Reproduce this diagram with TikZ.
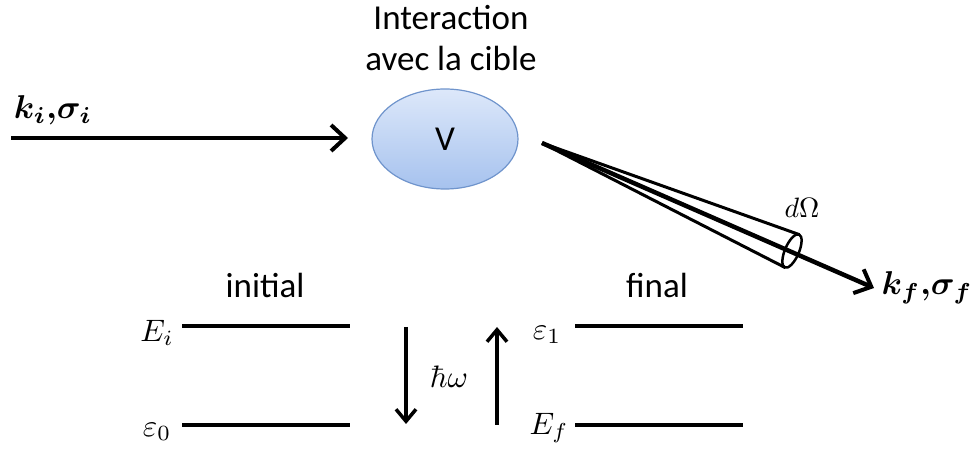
\documentclass[tikz,border=0pt]{standalone}
\usepackage{amsmath,bm}
\usepackage[no-math]{fontspec}
\setmainfont{Carlito}
\usetikzlibrary{arrows.meta,shapes.geometric}
\definecolor{elltop}{HTML}{DDE8FA}
\definecolor{ellbot}{HTML}{A6C2EE}
\definecolor{elldraw}{HTML}{6F94CC}
\begin{document}
\begin{tikzpicture}[x=1pt,y=-1pt,
  txt/.style={font=\fontsize{35}{38}\selectfont, inner sep=0pt},
  mth/.style={scale=3.1, inner sep=0pt},
  lvl/.style={line width=4pt},
  bar/.style={line width=4pt, -{Straight Barb[length=14pt,width=26pt,line width=4pt]}},
  vbar/.style={line width=3.5pt, -{Straight Barb[length=12pt,width=20pt,line width=3.5pt]}}
]
\useasboundingbox (0,0) rectangle (978,454);
% top labels
\node[txt] (t1) at (451,18) {Interaction};
\node[txt] (t2) at (451,58) {avec la cible};
% ellipse
\node[ellipse, minimum width=146pt, minimum height=100pt, draw=elldraw, line width=1.2pt,
  top color=elltop, bottom color=ellbot, inner sep=0pt] (V) at (445,139) {};
\node[txt] at (V) {V};
% incoming
\coordinate (in0) at (11,138);
\coordinate (in1) at (348,138);
\draw[bar] (in0) -- (in1);
\node[scale=3.3, inner sep=0pt] (ki) at (53,110) {$\bm{k_i{,}\sigma_i}$};
% cone
\coordinate (A) at (542,143);
\coordinate (C) at (792,251);
\coordinate (Ct) at (799,234.5);
\coordinate (Cb) at (785,267.5);
\coordinate (T) at (874,288);
\draw[line width=3pt] (A) -- (Ct);
\draw[line width=3pt] (A) -- (Cb);
\draw[line width=2.5pt, rotate around={-23.4:(C)}] (C) ellipse (7 and 18);
\draw[line width=4.5pt, -{Straight Barb[length=14pt,width=26pt,line width=4pt]}] (A) -- (T);
\node[scale=2.8, inner sep=0pt] (dO) at (802,208) {$d\Omega$};
\node[scale=3.3, inner sep=0pt] (kf) at (927,288) {$\bm{k_f{,}\sigma_f}$};
% levels
\node[txt] (ini) at (265,285) {initial};
\node[txt] (fin) at (657,285) {final};
\coordinate (Ei0) at (182,326); \coordinate (Ei1) at (350,326);
\coordinate (e00) at (182,425); \coordinate (e01) at (350,425);
\coordinate (e10) at (575,326); \coordinate (e11) at (743,326);
\coordinate (Ef0) at (575,425); \coordinate (Ef1) at (743,425);
\draw[lvl] (Ei0) -- (Ei1);
\draw[lvl] (e00) -- (e01);
\draw[lvl] (e10) -- (e11);
\draw[lvl] (Ef0) -- (Ef1);
\node[mth] (Ei) at (157,333) {$E_i$};
\node[mth] (e0) at (157,432) {$\varepsilon_0$};
\node[mth] (e1) at (547,335) {$\varepsilon_1$};
\node[mth] (Ef) at (549,428) {$E_f$};
% transition arrows
\coordinate (d0) at (406,327); \coordinate (d1) at (406,424);
\coordinate (u0) at (497,425); \coordinate (u1) at (497,327);
\draw[vbar] (d0) -- (d1);
\draw[vbar] (u0) -- (u1);
\node[mth] (hw) at (449,377) {$\hbar\omega$};
\end{tikzpicture}
\end{document}
